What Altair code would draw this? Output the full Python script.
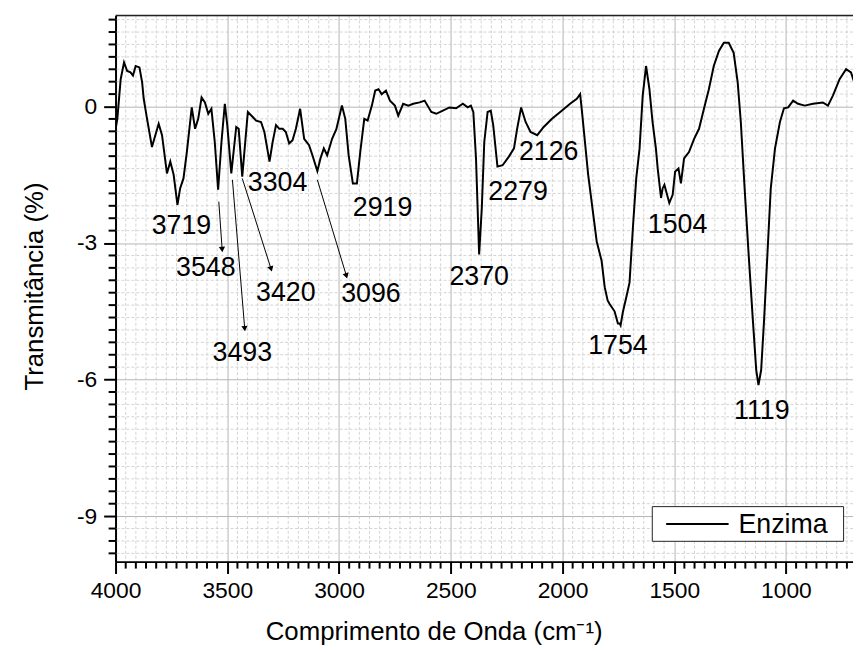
import math
import altair as alt
import pandas as pd

# ---------------- data ----------------
wavenumber = [4000, 3992, 3977, 3962, 3948, 3933, 3922, 3910, 3893, 3881, 3874, 3859, 3837, 3822,
              3807, 3792, 3770, 3755, 3740, 3723, 3711, 3696, 3681, 3659, 3644, 3630, 3615, 3600,
              3585, 3571, 3556, 3541, 3526, 3511, 3500, 3482, 3460, 3449, 3433, 3408, 3386, 3371,
              3349, 3334, 3311, 3297, 3282, 3267, 3252, 3238, 3223, 3208, 3193, 3174, 3156, 3134,
              3119, 3097, 3083, 3068, 3053, 3031, 3012, 2987, 2972, 2957, 2938, 2920, 2905, 2887,
              2872, 2853, 2838, 2823, 2809, 2790, 2772, 2750, 2735, 2713, 2690, 2668, 2639, 2617,
              2587, 2565, 2535, 2506, 2476, 2446, 2424, 2410, 2399, 2387, 2373, 2361, 2350, 2335,
              2321, 2310, 2291, 2268, 2240, 2217, 2203, 2185, 2165, 2143, 2113, 2084, 2047, 2002,
              1966, 1936, 1921, 1914, 1885, 1847, 1825, 1811, 1798, 1789, 1767, 1752, 1744, 1740,
              1730, 1715, 1700, 1685, 1670, 1655, 1641, 1626, 1611, 1597, 1582, 1574, 1559, 1552,
              1544, 1532, 1522, 1507, 1496, 1481, 1470, 1456, 1434, 1411, 1389, 1367, 1345, 1323,
              1300, 1278, 1256, 1234, 1216, 1202, 1185, 1167, 1148, 1133, 1123, 1111, 1098, 1083,
              1068, 1049, 1027, 1009, 990, 968, 946, 916, 879, 835, 812, 790, 760, 731, 709, 697]
transmittance = [-0.50, -0.27, 0.60, 0.97, 0.78, 0.75, 0.68, 0.89, 0.86, 0.53, 0.17, -0.27, -0.89, -0.63,
                 -0.38, -0.63, -1.47, -1.21, -1.50, -2.16, -1.80, -1.58, -1.00, -0.02, -0.49, -0.27, 0.20, 0.09,
                 -0.16, -0.05, -0.78, -1.83, -0.78, 0.06, -0.41, -1.47, -0.45, -0.49, -1.54, -0.12, -0.23, -0.31,
                 -0.34, -0.56, -1.21, -0.78, -0.41, -0.49, -0.49, -0.56, -0.81, -0.74, -0.49, -0.05, -0.71, -0.85,
                 -1.07, -1.42, -1.14, -0.92, -1.07, -0.71, -0.50, 0.02, -0.27, -1.07, -1.69, -1.69, -1.00, -0.27,
                 -0.31, 0.02, 0.35, 0.38, 0.27, 0.35, 0.13, 0.02, -0.20, 0.06, 0.02, 0.06, 0.09, 0.13,
                 -0.12, -0.16, -0.09, -0.02, -0.04, 0.06, -0.02, 0.02, -0.12, -1.14, -3.25, -2.23, -0.78, -0.12,
                 -0.09, -0.41, -1.32, -1.29, -1.10, -0.92, -0.49, -0.02, -0.34, -0.56, -0.63, -0.45, -0.27, -0.09,
                 0.06, 0.17, 0.27, -0.05, -1.50, -2.96, -3.39, -3.97, -4.26, -4.34, -4.50, -4.77, -4.77, -4.81,
                 -4.52, -4.20, -3.87, -2.67, -1.58, -0.92, 0.24, 0.89, 0.38, -0.34, -0.92, -1.36, -2.01, -1.80,
                 -1.72, -1.94, -2.12, -1.94, -1.43, -1.36, -1.69, -1.14, -1.00, -0.71, -0.49, -0.05, 0.38, 0.89,
                 1.22, 1.40, 1.40, 1.18, 0.53, -0.34, -1.80, -3.25, -4.70, -5.79, -6.12, -5.79, -4.70, -3.25,
                 -1.80, -0.92, -0.34, -0.04, -0.02, 0.13, 0.06, 0.02, 0.06, 0.09, 0.02, 0.24, 0.60, 0.82, 0.75, 0.57]
series_name = "Enzima"

peak_text = ["3719", "3548", "3420", "3096", "3493", "3304", "2919", "2370", "2279", "2126", "1504", "1754", "1119"]
peak_x = [3705, 3596, 3238, 2857, 3433, 3275, 2805, 2373, 2199, 2062, 1485, 1752, 1108]
peak_y = [-2.63, -3.56, -4.10, -4.13, -5.42, -1.69, -2.23, -3.74, -1.87, -1.01, -2.61, -5.26, -6.70]

arrow_x1 = [3538, 3477, 3433, 3097]
arrow_y1 = [-2.09, -1.61, -1.58, -1.61]
arrow_x2 = [3523, 3422, 3304, 2967]
arrow_y2 = [-3.14, -4.88, -3.57, -3.72]

x_major = [4000, 3500, 3000, 2500, 2000, 1500, 1000]
y_major = [0, -3, -6, -9]

# ---------------- layout ----------------
W, H = 744, 551
X_DOM = [4000, 700]
Y_DOM = [-10, 2]
FONT = "Liberation Sans"

x_minor = [4000 - k * 500 / 11 for k in range(1, 80) if k % 11 != 0 and 4000 - k * 500 / 11 >= 700]
y_minor = [3 * m + k * 3 / 11 for m in range(-4, 1) for k in range(1, 11)
           if -10 <= 3 * m + k * 3 / 11 <= 2]

df = pd.DataFrame({"wn": wavenumber, "t": transmittance, "s": series_name})
peaks = pd.DataFrame({"label": peak_text, "px": peak_x, "py": peak_y})

pxu = W / (X_DOM[0] - X_DOM[1])
pyu = H / (Y_DOM[1] - Y_DOM[0])
angles = []
for x1, y1, x2, y2 in zip(arrow_x1, arrow_y1, arrow_x2, arrow_y2):
    dx = -(x2 - x1) * pxu
    dy = -(y2 - y1) * pyu
    angles.append((-math.degrees(math.atan2(dx, dy))) % 360)
arrows = pd.DataFrame({"x1": arrow_x1, "y1": arrow_y1, "x2": arrow_x2, "y2": arrow_y2, "ang": angles})

xs = alt.Scale(domain=X_DOM, nice=False, zero=False)
ys = alt.Scale(domain=Y_DOM, nice=False, zero=False)

X_AXIS = alt.Axis(values=x_major, format="d", title="Comprimento de Onda (cm⁻¹)",
                  grid=True, gridColor="#b4b4b4", gridWidth=1,
                  domainColor="black", domainWidth=2,
                  tickColor="black", tickWidth=2, tickSize=12,
                  labelFont=FONT, labelFontSize=23, labelColor="black", labelPadding=6,
                  labelFlush=False,
                  titleFont=FONT, titleFontSize=26, titleFontWeight="normal", titleColor="black",
                  titleX=321, titleY=79, titleBaseline="alphabetic")
Y_AXIS = alt.Axis(values=y_major, title="Transmitância (%)",
                  labelExpr="datum.value < 0 ? '-' + abs(datum.value) : '' + datum.value",
                  grid=True, gridColor="#b4b4b4", gridWidth=1,
                  domainColor="black", domainWidth=2,
                  tickColor="black", tickWidth=2, tickSize=12,
                  labelFont=FONT, labelFontSize=23, labelColor="black", labelPadding=7,
                  labelFlush=False,
                  titleFont=FONT, titleFontSize=26, titleFontWeight="normal", titleColor="black",
                  titleX=-81.5, titleY=273, titleBaseline="middle")


def X(field):
    return alt.X(field, scale=xs, axis=X_AXIS, title="Comprimento de Onda (cm⁻¹)")


def Y(field):
    return alt.Y(field, scale=ys, axis=Y_AXIS, title="Transmitância (%)")


minor_x_grid = alt.Chart(pd.DataFrame({"v": x_minor})).mark_rule(
    color="#c8c8c8", strokeWidth=0.8, strokeDash=[3, 2]
).encode(x=X("v:Q"))

minor_y_grid = alt.Chart(pd.DataFrame({"v": y_minor})).mark_rule(
    color="#c8c8c8", strokeWidth=0.8, strokeDash=[3, 2]
).encode(y=Y("v:Q"))

minor_x_ticks = alt.Chart(pd.DataFrame({"v": x_minor})).mark_rule(
    color="black", strokeWidth=2
).encode(x=X("v:Q"), y=alt.value(H), y2=alt.value(H + 7))

minor_y_ticks = alt.Chart(pd.DataFrame({"v": y_minor})).mark_rule(
    color="black", strokeWidth=2
).encode(y=Y("v:Q"), x=alt.value(0), x2=alt.value(-7))

top_border = alt.Chart(pd.DataFrame({"a": [0]})).mark_rule(
    color="#222222", strokeWidth=1.5
).encode(x=alt.value(0), x2=alt.value(W), y=alt.value(0))

line = alt.Chart(df).mark_line(color="black", strokeWidth=2, clip=True).encode(
    x=X("wn:Q"), y=Y("t:Q"), order="wn:Q")

arrow_lines = alt.Chart(arrows).mark_rule(color="black", strokeWidth=1).encode(
    x=X("x1:Q"), y=Y("y1:Q"), x2="x2:Q", y2="y2:Q")

arrow_heads = alt.Chart(arrows).mark_point(shape="triangle-down", filled=True, color="black",
                                            opacity=1, size=40).encode(
    x=X("x2:Q"), y=Y("y2:Q"), angle=alt.Angle("ang:Q", scale=None))

labels = alt.Chart(peaks).mark_text(font=FONT, fontSize=27, color="black",
                                    align="center", baseline="middle").encode(
    x=X("px:Q"), y=Y("py:Q"), text="label:N")

# legend box (bottom-right of the plot)
leg = pd.DataFrame({"name": [series_name]})
LX, LY, LW, LH = 541.5, 495.5, 193, 35
legend_box = alt.Chart(leg).mark_rect(fill="white", stroke="#222222", strokeWidth=1).encode(
    x=alt.value(LX), x2=alt.value(LX + LW), y=alt.value(LY), y2=alt.value(LY + LH))
legend_line = alt.Chart(leg).mark_rule(color="black", strokeWidth=2).encode(
    x=alt.value(LX + 14), x2=alt.value(LX + 77), y=alt.value(LY + LH / 2))
legend_text = alt.Chart(leg).mark_text(font=FONT, fontSize=27, color="black", align="left",
                                       baseline="middle").encode(
    x=alt.value(LX + 87), y=alt.value(LY + LH / 2 + 1), text="name:N")

chart = alt.layer(
    minor_x_grid, minor_y_grid, line, arrow_lines, arrow_heads, labels,
    minor_x_ticks, minor_y_ticks, top_border, legend_box, legend_line, legend_text
).properties(
    width=W, height=H,
    autosize=alt.AutoSizeParams(type="none"),
    padding={"left": 108.5, "top": 4.7, "right": 0, "bottom": 88},
).configure_view(stroke=None).configure(background="white")

chart.save("out.html", embed_options={"renderer": "svg", "actions": False})
